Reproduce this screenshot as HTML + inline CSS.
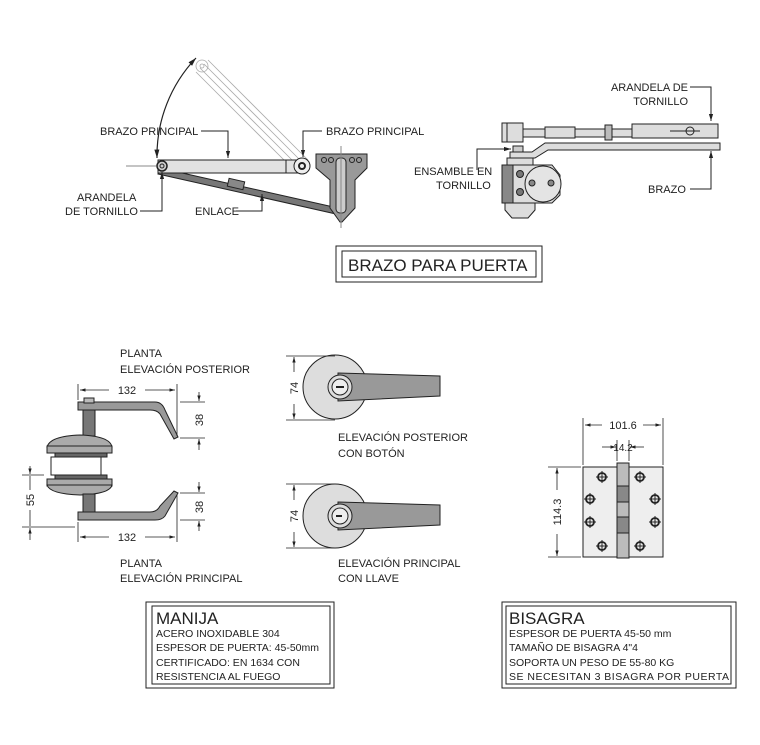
<!DOCTYPE html>
<html><head><meta charset="utf-8"><style>
html,body{margin:0;padding:0;background:#fff}
svg{display:block}
text{font-family:"Liberation Sans",sans-serif;fill:#222}
</style></head><body>
<svg width="760" height="745" viewBox="0 0 760 745" xmlns="http://www.w3.org/2000/svg">
<defs>
<marker id="ar" viewBox="0 0 10 10" refX="10" refY="5" markerWidth="7" markerHeight="7" orient="auto-start-reverse"><path d="M0,2 L10,5 L0,8z" fill="#222"/></marker>
</defs>
<g stroke="#222" fill="none" stroke-width="1">
<g stroke="#aaa" stroke-width="0.8">
<line x1="296" y1="172" x2="196" y2="72"/><line x1="308" y1="160" x2="208" y2="60"/>
<line x1="300" y1="168" x2="200" y2="68"/><line x1="304" y1="164" x2="204" y2="64"/>
<circle cx="202" cy="66" r="6"/><circle cx="202" cy="66" r="2"/>
</g>
<path d="M157,158 A142,142 0 0 1 196,58" stroke-width="1.2" marker-end="url(#ar)" marker-start="url(#ar)"/>
<line x1="126" y1="166" x2="156" y2="166" stroke="#888"/>
<path d="M160,168 L338,208 L336,214 L158,174z" fill="#777"/>
<rect x="228" y="180" width="16" height="8" fill="#888" transform="rotate(13 236 184)"/>
<rect x="158" y="160" width="148" height="13" fill="#e2e2e2"/>
<line x1="286" y1="160" x2="286" y2="173"/>
<circle cx="302" cy="166" r="8" fill="#eee"/><circle cx="302" cy="166" r="3" stroke-width="2"/>
<circle cx="162" cy="166" r="5" fill="#ccc" stroke-width="1.5"/><circle cx="162" cy="166" r="2"/>
<path d="M316,154 L367,154 L367,168 L355,180 L355,208 L342,222 L340,222 L330,208 L330,180 L316,168z" fill="#999"/>
<rect x="336" y="158" width="10" height="55" rx="4" fill="#ccc"/>
<circle cx="324" cy="160" r="2.5"/><circle cx="331" cy="160" r="2.5"/><circle cx="352" cy="160" r="2.5"/><circle cx="359" cy="160" r="2.5"/>
<line x1="341" y1="146" x2="341" y2="228" stroke="#888"/>
<polyline points="201,131 228,131 228,158" marker-end="url(#ar)"/>
<polyline points="322,131 303,131 303,157" marker-end="url(#ar)"/>
<polyline points="140,211 162,211 162,172" marker-end="url(#ar)"/>
<polyline points="236,211 262,211 262,194" marker-end="url(#ar)"/>
<rect x="502" y="123" width="21" height="19" fill="#ddd"/><line x1="507" y1="123" x2="507" y2="142"/>
<rect x="523" y="129" width="195" height="8" fill="#ddd"/>
<rect x="545" y="127" width="30" height="11" fill="#ddd"/>
<rect x="605" y="125" width="7" height="15" fill="#bbb"/>
<rect x="632" y="124" width="86" height="14" fill="#ddd"/>
<circle cx="690" cy="131" r="4"/><line x1="670" y1="131" x2="700" y2="131"/>
<path d="M510,152 L532,152 L545,143 L720,143 L720,150 L548,150 L535,158 L510,158z" fill="#ddd"/>
<rect x="513" y="146" width="10" height="6" fill="#ccc"/>
<rect x="507" y="158" width="26" height="7" fill="#ddd"/>
<path d="M502,165 L552,165 L560,175 L560,195 L552,203 L502,203z" fill="#ddd"/>
<rect x="502" y="165" width="11" height="38" fill="#888"/>
<circle cx="543" cy="184" r="18" fill="#e4e4e4"/>
<circle cx="532" cy="183" r="3" fill="#888"/><circle cx="551" cy="183" r="3" fill="#888"/>
<circle cx="520" cy="174" r="3.5" fill="#777"/><circle cx="520" cy="192" r="3.5" fill="#777"/>
<path d="M505,203 L535,203 L535,210 L528,218 L512,218 L505,210z" fill="#ddd"/>
<polyline points="690,87 711,87 711,121" marker-end="url(#ar)"/>
<polyline points="690,189 711,189 711,151" marker-end="url(#ar)"/>
<polyline points="477,170 477,149 511,149" marker-end="url(#ar)"/>
<rect x="336" y="246" width="206" height="36"/><rect x="342" y="251" width="194" height="26"/>
<g fill="#999">
<path d="M78,402 L155,402 Q162,402 165,410 L178,437 L174,439 L160,414 Q157,410 150,410 L78,410z"/>
<rect x="83" y="410" width="12" height="26" fill="#777"/>
<rect x="84" y="398" width="10" height="5" fill="#bbb"/>
<path d="M47,447 Q50,436 80,435 Q110,436 112,447z" fill="#aaa"/>
<rect x="47" y="446" width="65" height="7" fill="#aaa"/>
<rect x="55" y="453" width="52" height="4" fill="#666"/>
<rect x="51" y="457" width="50" height="18" fill="#fff"/>
<rect x="55" y="475" width="52" height="4" fill="#666"/>
<rect x="47" y="479" width="65" height="7" fill="#aaa"/>
<path d="M47,485 Q50,494 80,495 Q110,494 112,485z" fill="#aaa"/>
<rect x="83" y="494" width="12" height="20" fill="#777"/>
<path d="M78,512 L150,512 Q157,512 160,506 L174,491 L178,493 L165,516 Q162,520 155,520 L78,520z"/>
</g>
<g stroke-width="0.8">
<line x1="78" y1="384" x2="78" y2="400"/><line x1="177" y1="384" x2="177" y2="436"/>
<line x1="80" y1="390" x2="109" y2="390" marker-start="url(#ar)"/><line x1="145" y1="390" x2="175" y2="390" marker-end="url(#ar)"/>
<line x1="180" y1="402" x2="205" y2="402"/><line x1="180" y1="438" x2="205" y2="438"/>
<line x1="199" y1="392" x2="199" y2="401" marker-end="url(#ar)"/><line x1="199" y1="450" x2="199" y2="439" marker-end="url(#ar)"/>
<line x1="78" y1="522" x2="78" y2="542"/><line x1="177" y1="495" x2="177" y2="542"/>
<line x1="80" y1="537" x2="109" y2="537" marker-start="url(#ar)"/><line x1="145" y1="537" x2="175" y2="537" marker-end="url(#ar)"/>
<line x1="180" y1="493" x2="205" y2="493"/><line x1="180" y1="520" x2="205" y2="520"/>
<line x1="199" y1="482" x2="199" y2="492" marker-end="url(#ar)"/><line x1="199" y1="531" x2="199" y2="521" marker-end="url(#ar)"/>
<line x1="22" y1="475" x2="44" y2="475"/><line x1="22" y1="527" x2="75" y2="527"/>
<line x1="30" y1="466" x2="30" y2="474" marker-end="url(#ar)"/><line x1="30" y1="540" x2="30" y2="528" marker-end="url(#ar)"/>
<line x1="30" y1="476" x2="30" y2="490"/><line x1="30" y1="510" x2="30" y2="526"/>
</g>
<g>
<circle cx="335" cy="387" r="32" fill="#ddd"/>
<path d="M338,373 L440,376 L440,396 L338,401z" fill="#999"/>
<circle cx="340" cy="387" r="12" fill="#ddd"/><circle cx="340" cy="387" r="8" fill="#eee"/>
<line x1="336" y1="387" x2="344" y2="387" stroke-width="2"/>
<circle cx="335" cy="516" r="32" fill="#ddd"/>
<path d="M338,502 L440,505 L440,525 L338,530z" fill="#999"/>
<circle cx="340" cy="516" r="12" fill="#ddd"/><circle cx="340" cy="516" r="8" fill="#eee"/>
<line x1="336" y1="516" x2="342" y2="516" stroke-width="2"/>
<g stroke-width="0.8">
<line x1="286" y1="356" x2="335" y2="356"/><line x1="286" y1="420" x2="335" y2="420"/>
<line x1="294" y1="372" x2="294" y2="357" marker-end="url(#ar)"/><line x1="294" y1="404" x2="294" y2="419" marker-end="url(#ar)"/>
<line x1="286" y1="484" x2="335" y2="484"/><line x1="286" y1="548" x2="335" y2="548"/>
<line x1="294" y1="500" x2="294" y2="485" marker-end="url(#ar)"/><line x1="294" y1="532" x2="294" y2="547" marker-end="url(#ar)"/>
</g>
</g>
<rect x="583" y="467" width="80" height="90" fill="#eee"/>
<rect x="617" y="463" width="12" height="95" fill="#bbb"/>
<rect x="617" y="486" width="12" height="16" fill="#888"/><rect x="617" y="517" width="12" height="16" fill="#888"/>
<g stroke-width="1.8">
<circle cx="602" cy="477" r="4"/><circle cx="640" cy="477" r="4"/><circle cx="590" cy="499" r="4"/><circle cx="655" cy="499" r="4"/>
<circle cx="590" cy="522" r="4"/><circle cx="655" cy="522" r="4"/><circle cx="602" cy="546" r="4"/><circle cx="640" cy="546" r="4"/>
</g>
<g stroke-width="1">
<path d="M596,477h12M602,471v12M634,477h12M640,471v12M584,499h12M590,493v12M649,499h12M655,493v12M584,522h12M590,516v12M649,522h12M655,516v12M596,546h12M602,540v12M634,546h12M640,540v12"/>
</g>
<g stroke-width="0.8">
<line x1="583" y1="418" x2="583" y2="465"/><line x1="663" y1="418" x2="663" y2="465"/>
<line x1="585" y1="425" x2="602" y2="425" marker-start="url(#ar)"/><line x1="643" y1="425" x2="661" y2="425" marker-end="url(#ar)"/>
<line x1="617" y1="440" x2="617" y2="461"/><line x1="629" y1="440" x2="629" y2="461"/>
<line x1="602" y1="447" x2="616" y2="447" marker-end="url(#ar)"/><line x1="644" y1="447" x2="630" y2="447" marker-end="url(#ar)"/>
<line x1="548" y1="467" x2="581" y2="467"/><line x1="548" y1="557" x2="581" y2="557"/>
<line x1="557" y1="490" x2="557" y2="468" marker-end="url(#ar)"/><line x1="557" y1="534" x2="557" y2="556" marker-end="url(#ar)"/>
</g>
<rect x="146" y="602" width="188" height="86"/><rect x="152" y="606" width="178" height="78"/>
<rect x="502" y="602" width="234" height="86"/><rect x="506" y="606" width="225" height="78"/>
</g>
<g font-size="11">
<text x="100" y="135">BRAZO PRINCIPAL</text>
<text x="326" y="135">BRAZO PRINCIPAL</text>
<text x="77" y="201">ARANDELA</text>
<text x="65" y="215">DE TORNILLO</text>
<text x="195" y="215">ENLACE</text>
<text x="688" y="91" text-anchor="end">ARANDELA DE</text>
<text x="688" y="105" text-anchor="end">TORNILLO</text>
<text x="414" y="175">ENSAMBLE EN</text>
<text x="436" y="189">TORNILLO</text>
<text x="648" y="193">BRAZO</text>
<text x="120" y="357">PLANTA</text>
<text x="120" y="373">ELEVACIÓN POSTERIOR</text>
<text x="120" y="567">PLANTA</text>
<text x="120" y="582">ELEVACIÓN PRINCIPAL</text>
<text x="338" y="441">ELEVACIÓN POSTERIOR</text>
<text x="338" y="457">CON BOTÓN</text>
<text x="338" y="567">ELEVACIÓN PRINCIPAL</text>
<text x="338" y="582">CON LLAVE</text>
<text x="127" y="394" text-anchor="middle">132</text>
<text x="127" y="541" text-anchor="middle">132</text>
<text x="203" y="420" text-anchor="middle" transform="rotate(-90 203 420)">38</text>
<text x="203" y="507" text-anchor="middle" transform="rotate(-90 203 507)">38</text>
<text x="34" y="500" text-anchor="middle" transform="rotate(-90 34 500)">55</text>
<text x="298" y="388" text-anchor="middle" transform="rotate(-90 298 388)">74</text>
<text x="298" y="516" text-anchor="middle" transform="rotate(-90 298 516)">74</text>
<text x="623" y="429" text-anchor="middle">101.6</text>
<text x="623" y="451" text-anchor="middle" font-size="10">14.2</text>
<text x="561" y="512" text-anchor="middle" transform="rotate(-90 561 512)">114.3</text>
</g>
<text x="348" y="271" font-size="17">BRAZO PARA PUERTA</text>
<text x="156" y="624" font-size="17">MANIJA</text>
<g font-size="10.5">
<text x="156" y="637">ACERO INOXIDABLE 304</text>
<text x="156" y="651">ESPESOR DE PUERTA: 45-50mm</text>
<text x="156" y="666">CERTIFICADO: EN 1634 CON</text>
<text x="156" y="680">RESISTENCIA AL FUEGO</text>
</g>
<text x="509" y="624" font-size="17">BISAGRA</text>
<g font-size="10.5">
<text x="509" y="637">ESPESOR DE PUERTA 45-50 mm</text>
<text x="509" y="651">TAMAÑO DE BISAGRA 4"4</text>
<text x="509" y="666">SOPORTA UN PESO DE 55-80 KG</text>
<text x="509" y="680" textLength="220">SE NECESITAN 3 BISAGRA POR PUERTA</text>
</g>
</svg>
</body></html>
